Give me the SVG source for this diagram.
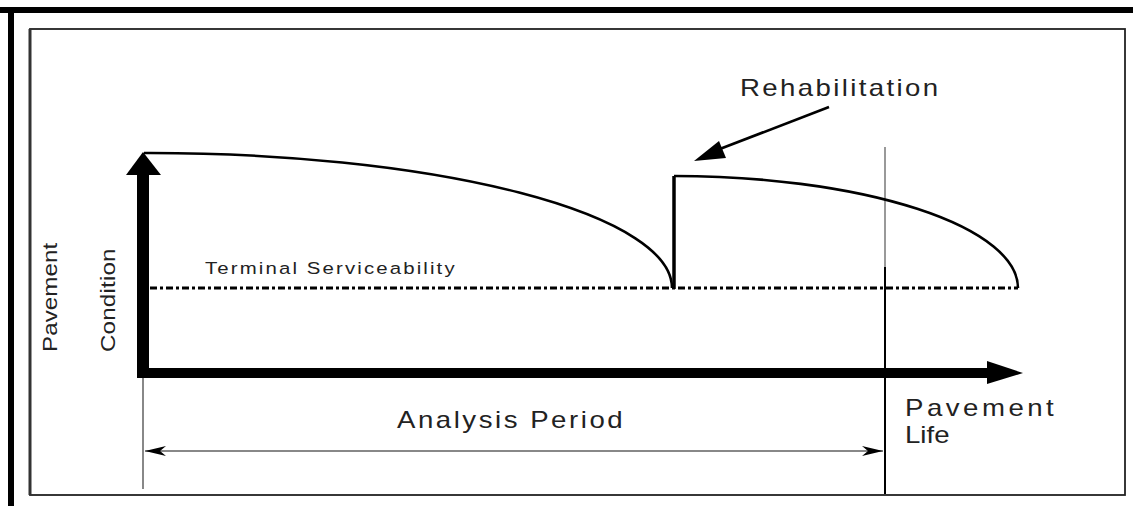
<svg xmlns="http://www.w3.org/2000/svg" width="1133" height="506" viewBox="0 0 1133 506">
<style>
.txt{font-family:"Liberation Sans",Arial,sans-serif;fill:#222;}
.curve{fill:none;stroke:#000;stroke-width:2.6;}
.thin{stroke:#888;stroke-width:2;fill:none;}
</style>
<defs>
<marker id="dimL" markerWidth="24" markerHeight="12" refX="1" refY="6" orient="auto" markerUnits="userSpaceOnUse">
<path d="M1,6 L22,1 L16,6 L22,11 Z" fill="#000"/>
</marker>
<marker id="dimR" markerWidth="24" markerHeight="12" refX="23" refY="6" orient="auto" markerUnits="userSpaceOnUse">
<path d="M23,6 L2,1 L8,6 L2,11 Z" fill="#000"/>
</marker>
</defs>
<rect width="1133" height="506" fill="#fff"/>
<g id="frame">
<rect x="0" y="7" width="1133" height="6" fill="#000"/>
<rect x="8" y="7" width="6" height="499" fill="#000"/>
<rect x="30" y="29" width="1095" height="466" fill="none" stroke="#222" stroke-width="1.8"/>
<line x1="30" y1="29" x2="30" y2="495" stroke="#333" stroke-width="3"/>
</g>
<g id="connectors">
<g id="y-axis">
<line x1="143" y1="378" x2="143" y2="172" stroke="#000" stroke-width="12"/>
<polygon points="126,175 143,152 161,175" fill="#000"/>
</g>
<g id="x-axis">
<line x1="137" y1="373" x2="990" y2="373" stroke="#000" stroke-width="10"/>
<polygon points="987,361 1023,373 987,384" fill="#000"/>
</g>
<line id="left-tick" x1="143" y1="378" x2="143" y2="489" class="thin"/>
<line id="right-tick-upper" x1="885" y1="147" x2="885" y2="268" stroke="#999" stroke-width="2"/>
<line id="right-tick-lower" x1="885" y1="267" x2="885" y2="494" stroke="#000" stroke-width="2"/>
<line id="analysis-dim" x1="145" y1="451" x2="883" y2="451" stroke="#888" stroke-width="2" marker-start="url(#dimL)" marker-end="url(#dimR)"/>
<line id="terminal-line" x1="150" y1="288" x2="1018" y2="288" stroke="#000" stroke-width="3" stroke-dasharray="7,3,3,3"/>
<path id="curve1" class="curve" d="M144,153 L150,153 A522,135 0 0 1 672,288"/>
<line id="rehab-jump" x1="674" y1="289" x2="674" y2="176" stroke="#000" stroke-width="3.5"/>
<path id="curve2" class="curve" d="M674,176 A344,112 0 0 1 1018,288"/>
<g id="rehab-arrow">
<line x1="829" y1="107" x2="712" y2="152" stroke="#000" stroke-width="2.6"/>
<polygon points="694,161 719,141 726,158" fill="#000"/>
</g>
</g>
<g id="label-rehab"><text class="txt" transform="translate(740,96) scale(1.2,1)" font-size="23" textLength="165" lengthAdjust="spacing">Rehabilitation</text></g>
<g id="label-terminal"><text class="txt" transform="translate(205,274) scale(1.2,1)" font-size="17" textLength="208" lengthAdjust="spacing">Terminal Serviceability</text></g>
<g id="label-analysis"><text class="txt" transform="translate(397,428) scale(1.2,1)" font-size="23" textLength="188" lengthAdjust="spacing">Analysis Period</text></g>
<g id="label-life">
<text class="txt" transform="translate(905,416) scale(1.2,1)" font-size="23" textLength="124" lengthAdjust="spacing">Pavement</text>
<text class="txt" transform="translate(905,443) scale(1.2,1)" font-size="23">Life</text>
</g>
<g id="label-condition">
<text class="txt" transform="translate(57,352) rotate(-90) scale(1.15,1)" font-size="21" textLength="95" lengthAdjust="spacing">Pavement</text>
<text class="txt" transform="translate(115,352) rotate(-90) scale(1.15,1)" font-size="21" textLength="90" lengthAdjust="spacing">Condition</text>
</g>
</svg>
